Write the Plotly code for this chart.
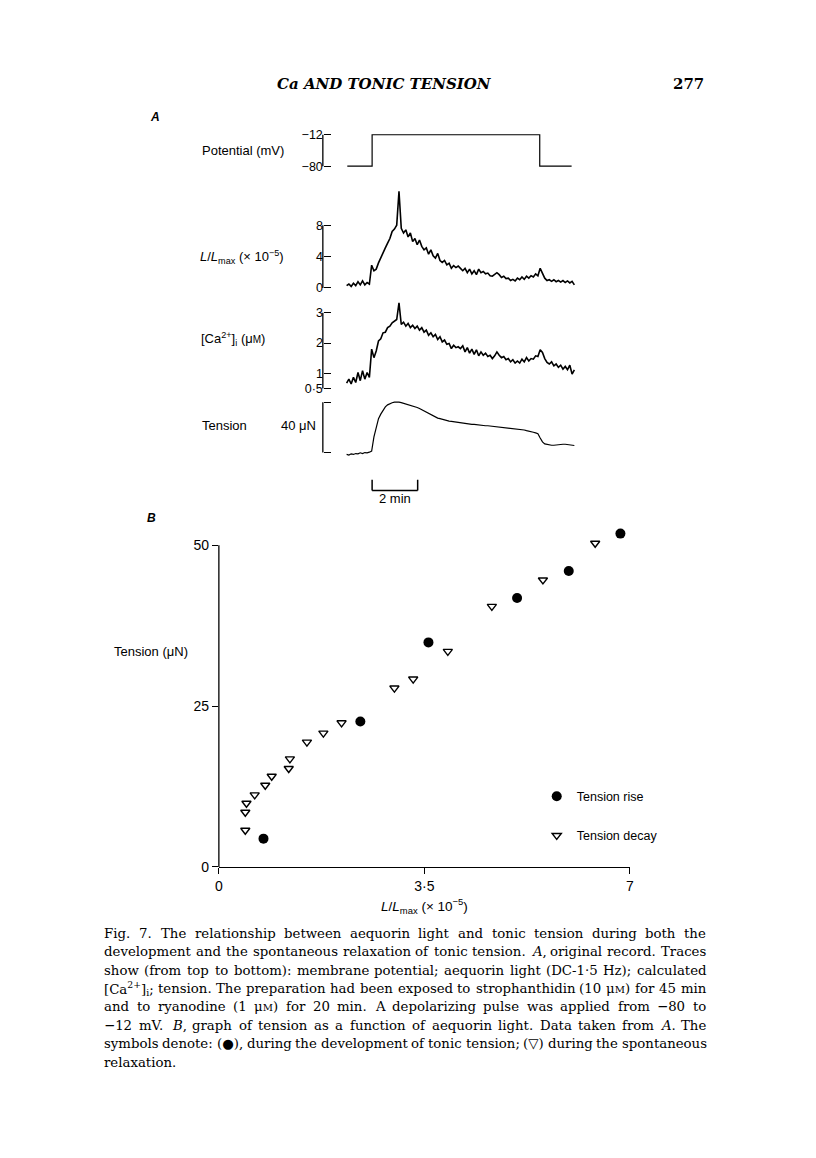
import glob
import re
import struct

import plotly.graph_objects as go

# ---------------- data ----------------
# Panel A: sample times (min from start of record)
TIME_MIN = [0.0, 0.1, 0.2, 0.3, 0.4, 0.5, 0.6, 0.7, 0.8, 0.9,
            1.0, 1.1, 1.2, 1.3, 1.4, 1.5, 1.6, 1.7, 1.8, 1.9,
            2.0, 2.1, 2.2, 2.3, 2.4, 2.5, 2.6, 2.7, 2.8, 2.9,
            3.0, 3.1, 3.2, 3.3, 3.4, 3.5, 3.6, 3.7, 3.8, 3.9,
            4.0, 4.1, 4.2, 4.3, 4.4, 4.5, 4.6, 4.7, 4.8, 4.9,
            5.0, 5.1, 5.2, 5.3, 5.4, 5.5, 5.6, 5.7, 5.8, 5.9,
            6.0, 6.1, 6.2, 6.3, 6.4, 6.5, 6.6, 6.7, 6.8, 6.9,
            7.0, 7.1, 7.2, 7.3, 7.4, 7.5, 7.6, 7.7, 7.8, 7.9,
            8.0, 8.1, 8.2, 8.3, 8.4, 8.5, 8.6, 8.7, 8.8, 8.9,
            9.0, 9.1, 9.2, 9.3, 9.4, 9.5, 9.6, 9.7, 9.8, 9.9, 10.0]

# aequorin light, L/Lmax (x 1e-5)
LIGHT = [0.3, 0.5, 0.2, 0.6, 0.3, 0.8, 0.4, 0.9, 0.4, 0.7, 0.5,
         2.9, 2.2, 2.4, 3.2, 3.9, 4.4, 5.1, 5.7, 6.3, 7.2,
         7.5, 8.0, 12.3, 7.6, 7.0, 7.4, 6.5, 7.0, 5.9, 6.3,
         5.5, 6.1, 5.3, 4.85, 5.1, 4.3, 4.85, 4.1, 3.8, 4.4,
         3.5, 3.25, 3.5, 2.95, 3.15, 2.5, 2.85, 2.6, 2.8, 2.5,
         2.2, 2.5, 1.95, 2.4, 1.8, 2.2, 1.7, 2.4, 1.95, 2.1,
         1.8, 1.9, 1.55, 1.5, 1.7, 1.95, 1.7, 1.35, 1.5, 1.2,
         1.25, 0.95, 1.1, 0.9, 1.25, 1.05, 1.4, 1.1, 1.5, 1.25,
         1.55, 1.4, 1.8, 1.55, 2.5, 1.95, 1.25, 0.95, 1.05, 0.85,
         1.05, 0.8, 0.95, 0.75, 0.95, 0.7, 0.9, 0.65, 0.85, 0.4]

# calculated [Ca2+]i (uM)
CALCIUM = [0.68, 0.81, 0.65, 0.87, 0.70, 1.03, 0.76, 1.09, 0.81, 1.03, 0.87,
           1.80, 1.52, 1.74, 2.07, 2.14, 2.34, 2.36, 2.51, 2.56, 2.67,
           2.73, 2.78, 3.33, 2.62, 2.69, 2.56, 2.65, 2.51, 2.59, 2.48,
           2.56, 2.43, 2.51, 2.36, 2.43, 2.26, 2.34, 2.21, 2.29, 2.12,
           2.21, 2.04, 2.10, 1.96, 1.99, 1.82, 1.93, 1.85, 1.88, 1.82,
           1.91, 1.71, 1.85, 1.67, 1.80, 1.63, 1.78, 1.58, 1.71, 1.60,
           1.67, 1.56, 1.60, 1.49, 1.58, 1.71, 1.60, 1.52, 1.56, 1.45,
           1.49, 1.38, 1.45, 1.34, 1.41, 1.34, 1.47, 1.38, 1.52, 1.41,
           1.49, 1.47, 1.58, 1.56, 1.78, 1.69, 1.49, 1.36, 1.31, 1.38,
           1.25, 1.31, 1.20, 1.27, 1.14, 1.23, 1.12, 1.27, 0.98, 1.12]

# tension (uN, relative to bracket bottom)
TENSION = [-1.5, -2.0, -1.0, -1.5, -0.8, -1.0, -0.2, -0.8, 0.0, -0.2, 0.3,
           1.1, 12.4, 20.3, 26.9, 30.5, 34.0, 36.3, 37.9, 39.0, 39.6,
           40.0, 40.1, 40.0, 39.7, 39.2, 38.7, 38.2, 37.6, 37.1, 36.6,
           35.8, 35.0, 34.0, 32.9, 31.9, 30.8, 29.8, 29.0, 28.2, 27.4,
           26.9, 26.3, 25.8, 25.3, 25.0, 24.8, 24.5, 24.2, 24.0, 23.7,
           23.4, 23.2, 22.9, 22.7, 22.4, 22.4, 22.1, 21.9, 21.9, 21.6,
           21.3, 21.3, 21.1, 21.1, 20.8, 20.8, 20.5, 20.3, 20.0, 19.8,
           19.5, 19.5, 19.2, 19.0, 18.7, 18.4, 18.2, 17.9, 17.4, 17.1,
           16.6, 16.1, 15.6, 15.0, 11.6, 8.45, 6.9, 6.35, 6.1, 5.8,
           5.8, 6.1, 6.35, 6.6, 6.6, 6.6, 6.35, 6.1, 5.8, 5.6]

# membrane potential (step pulse)
POT_TIME = [0.03, 1.12, 1.12, 8.48, 8.48, 9.88]
POT_MV = [-80, -80, -12, -12, -80, -80]

SCALE_BAR_START = 1.12   # min
SCALE_BAR_LEN = 2        # min

# Panel B
RISE_L = [0.76, 2.41, 3.57, 5.08, 5.96, 6.84]
RISE_T = [4.4, 22.6, 34.9, 41.8, 46.0, 51.8]
DECAY_L = [0.45, 0.45, 0.47, 0.61, 0.79, 0.90, 1.19, 1.21, 1.50, 1.78, 2.09,
           2.99, 3.31, 3.90, 4.65, 5.52, 6.41]
DECAY_T = [5.7, 8.5, 9.9, 11.2, 12.7, 14.1, 15.3, 16.8, 19.4, 20.8, 22.4,
           27.8, 29.2, 33.5, 40.5, 44.6, 50.3]

B_XTICKS = [0, 3.5, 7]
B_XTICKTEXT = ["0", "3·5", "7"]
B_YTICKS = [0, 25, 50]
B_YMAX = 50

SMALLM = "<span style='font-size:10px'>M</span>"
CAPTION = [
    "Fig. 7. The relationship between aequorin light and tonic tension during both the",
    "development and the spontaneous relaxation of tonic tension. <i>A</i>, original record. Traces",
    "show (from top to bottom): membrane potential; aequorin light (DC-1·5 Hz); calculated",
    "[Ca<sup>2+</sup>]<sub>i</sub>; tension. The preparation had been exposed to strophanthidin (10 μ" + SMALLM + ") for 45 min",
    "and to ryanodine (1 μ" + SMALLM + ") for 20 min. A depolarizing pulse was applied from −80 to",
    "−12 mV. <i>B</i>, graph of tension as a function of aequorin light. Data taken from <i>A</i>. The",
    "symbols denote: (●), during the development of tonic tension; (▽) during the spontaneous",
    "relaxation.",
]

# ---------------- layout helpers ----------------
W, H = 816, 1158
SANS = "Liberation Sans, Arial, sans-serif"
SERIF = "DejaVu Serif, serif"
CAP_SIZE = 13.3
CAP_LEFT, CAP_RIGHT = 100, 708


def py(p):
    return 1 - p / H


def px(p):
    return p / W


def lin_axis(v1, p1, v2, p2, p_lo, p_hi, vertical):
    s = (p2 - p1) / (v2 - v1)
    va = v1 + (p_lo - p1) / s
    vb = v1 + (p_hi - p1) / s
    if vertical:
        return dict(domain=[1 - p_hi / H, 1 - p_lo / H], range=[vb, va])
    return dict(domain=[p_lo / W, p_hi / W], range=[va, vb])


# --- tiny TrueType advance-width reader (for justifying the caption) ---
def load_metrics(name):
    paths = glob.glob("/usr/share/fonts/**/" + name, recursive=True)
    if not paths:
        return None
    data = open(paths[0], "rb").read()
    ntab = struct.unpack(">H", data[4:6])[0]
    tabs = {}
    for i in range(ntab):
        tag, _, off, ln = struct.unpack(">4sIII", data[12 + 16 * i:28 + 16 * i])
        tabs[tag.decode("latin1")] = off
    upem = struct.unpack(">H", data[tabs["head"] + 18:tabs["head"] + 20])[0]
    nhm = struct.unpack(">H", data[tabs["hhea"] + 34:tabs["hhea"] + 36])[0]
    hm = tabs["hmtx"]
    adv = [struct.unpack(">H", data[hm + 4 * i:hm + 4 * i + 2])[0] for i in range(nhm)]
    cm = tabs["cmap"]
    nsub = struct.unpack(">H", data[cm + 2:cm + 4])[0]
    cmap = {}
    for i in range(nsub):
        pid, eid, off = struct.unpack(">HHI", data[cm + 4 + 8 * i:cm + 12 + 8 * i])
        so = cm + off
        if pid == 3 and eid == 1 and struct.unpack(">H", data[so:so + 2])[0] == 4:
            seg2 = struct.unpack(">H", data[so + 6:so + 8])[0]
            seg = seg2 // 2
            ends = struct.unpack(">%dH" % seg, data[so + 14:so + 14 + seg2])
            starts = struct.unpack(">%dH" % seg, data[so + 16 + seg2:so + 16 + 2 * seg2])
            deltas = struct.unpack(">%dh" % seg, data[so + 16 + 2 * seg2:so + 16 + 3 * seg2])
            rpos = so + 16 + 3 * seg2
            roffs = struct.unpack(">%dH" % seg, data[rpos:rpos + seg2])
            for s in range(seg):
                for c in range(starts[s], ends[s] + 1):
                    if c == 0xFFFF:
                        continue
                    if roffs[s] == 0:
                        g = (c + deltas[s]) & 0xFFFF
                    else:
                        a = rpos + 2 * s + roffs[s] + 2 * (c - starts[s])
                        g = struct.unpack(">H", data[a:a + 2])[0]
                        if g:
                            g = (g + deltas[s]) & 0xFFFF
                    cmap[c] = g
            break
    return dict(upem=upem, adv=adv, cmap=cmap)


def char_w(fonts, ch, size):
    for f in fonts:
        if f and ord(ch) in f["cmap"]:
            g = f["cmap"][ord(ch)]
            a = f["adv"][g] if g < len(f["adv"]) else f["adv"][-1]
            return a * size / f["upem"]
    return 0.55 * size


try:
    F_REG = load_metrics("DejaVuSerif.ttf")
    F_IT = load_metrics("DejaVuSerif-Italic.ttf") or F_REG
    F_SANS = load_metrics("DejaVuSans.ttf")
except Exception:
    F_REG = F_IT = F_SANS = None


def rich_width(s, size):
    tot, italic, scale, spansize = 0.0, False, 1.0, None
    for tok in re.split(r"(<[^>]+>)", s):
        if not tok:
            continue
        if tok.startswith("<"):
            t = tok.lower()
            if t == "<i>":
                italic = True
            elif t == "</i>":
                italic = False
            elif t in ("<sup>", "<sub>"):
                scale = 0.7
            elif t in ("</sup>", "</sub>"):
                scale = 1.0
            elif t.startswith("<span"):
                m = re.search(r"font-size:\s*([\d.]+)px", t)
                spansize = float(m.group(1)) if m else None
            elif t == "</span>":
                spansize = None
            continue
        sz = (spansize if spansize else size) * scale
        fonts = [F_IT if italic else F_REG, F_SANS]
        tot += sum(char_w(fonts, ch, sz) for ch in tok)
    return tot


def split_words(line):
    # split on spaces that are not inside an html tag
    return [w for w in re.split(r" (?![^<]*>)", line) if w]


BRACKET_X = 322
LW = 1.3
fig = go.Figure()

fig.add_trace(go.Scatter(x=POT_TIME, y=POT_MV, mode="lines", line=dict(color="black", width=1.2),
                         xaxis="x", yaxis="y", showlegend=False, hoverinfo="skip"))
fig.add_trace(go.Scatter(x=TIME_MIN, y=LIGHT, mode="lines", line=dict(color="black", width=1.6),
                         xaxis="x", yaxis="y2", showlegend=False, hoverinfo="skip"))
fig.add_trace(go.Scatter(x=TIME_MIN, y=CALCIUM, mode="lines", line=dict(color="black", width=1.6),
                         xaxis="x", yaxis="y3", showlegend=False, hoverinfo="skip"))
fig.add_trace(go.Scatter(x=TIME_MIN, y=TENSION, mode="lines", line=dict(color="black", width=1.2),
                         xaxis="x", yaxis="y4", showlegend=False, hoverinfo="skip"))

fig.add_trace(go.Scatter(x=RISE_L, y=RISE_T, mode="markers", name="Tension rise",
                         marker=dict(symbol="circle", size=10, color="black"),
                         xaxis="x2", yaxis="y5", cliponaxis=False, legendgroup="a"))
fig.add_trace(go.Scatter(x=DECAY_L, y=DECAY_T, mode="markers", name="Tension decay",
                         marker=dict(symbol="triangle-down-open", size=8, color="black",
                                     line=dict(width=1.4, color="black")),
                         xaxis="x2", yaxis="y5", cliponaxis=False, legendgroup="b"))

tickfont = dict(family=SANS, size=12.5, color="black")
bracket_axis = dict(anchor="free", position=px(BRACKET_X), side="left", ticks="inside",
                    ticklen=7, tickwidth=LW, tickcolor="black", showline=False,
                    showgrid=False, zeroline=False, tickfont=tickfont, fixedrange=True)

xa = lin_axis(0, 346, 2, 392, 340, 585, False)
ya1 = lin_axis(-12, 135.7, -80, 167.3, 126, 176, True)
ya2 = lin_axis(8, 226.7, 0, 290, 183, 300, True)
ya3 = lin_axis(3, 315, 1, 376, 301, 395, True)
ya4 = lin_axis(40, 405, 0, 455.7, 396, 466, True)
yb = lin_axis(B_YMAX, 549, 0, 873, 525, 873, True)

ax4 = dict(bracket_axis)
ax4["showticklabels"] = False

layout = dict(
    width=W, height=H, margin=dict(l=0, r=0, t=0, b=0),
    paper_bgcolor="white", plot_bgcolor="rgba(0,0,0,0)",
    xaxis=dict(domain=xa["domain"], range=xa["range"], visible=False, anchor="y"),
    yaxis=dict(domain=ya1["domain"], range=ya1["range"], tickvals=[-80, -12],
               ticktext=["−80", "−12"], **bracket_axis),
    yaxis2=dict(domain=ya2["domain"], range=ya2["range"], tickvals=[0, 4, 8],
                ticktext=["0", "4", "8"], **bracket_axis),
    yaxis3=dict(domain=ya3["domain"], range=ya3["range"], tickvals=[0.5, 1, 2, 3],
                ticktext=["0·5", "1", "2", "3"], **bracket_axis),
    yaxis4=dict(domain=ya4["domain"], range=ya4["range"], tickvals=[0, 40], **ax4),
    xaxis2=dict(domain=[px(217), px(632)], range=[0, 7], anchor="y5",
                showline=True, linecolor="black", linewidth=LW, ticks="outside",
                ticklen=6, tickwidth=LW, tickcolor="black", tickvals=B_XTICKS,
                ticktext=B_XTICKTEXT, showgrid=False, zeroline=False,
                tickfont=dict(family=SANS, size=14, color="black"), fixedrange=True),
    yaxis5=dict(domain=yb["domain"], range=yb["range"], anchor="x2",
                showline=False, ticks="outside",
                ticklen=6, tickwidth=LW, tickcolor="black", tickvals=B_YTICKS,
                showgrid=False, zeroline=False,
                tickfont=dict(family=SANS, size=14, color="black"), fixedrange=True),
    showlegend=True,
    legend=dict(x=px(538), y=py(787), xanchor="left", yanchor="top",
                bgcolor="rgba(0,0,0,0)", font=dict(family=SANS, size=12.5, color="black"),
                tracegroupgap=20, traceorder="grouped"),
)
fig.update_layout(**layout)

shapes = []
for yref, (lo, hi) in [("y", (-80, -12)), ("y2", (0, 8)), ("y3", (0.5, 3)), ("y4", (0, 40))]:
    shapes.append(dict(type="line", xref="paper", yref=yref, x0=px(BRACKET_X), x1=px(BRACKET_X),
                       y0=lo, y1=hi, line=dict(color="black", width=LW)))
shapes.append(dict(type="line", xref="paper", yref="y5", x0=px(217), x1=px(217),
                   y0=0, y1=B_YMAX, line=dict(color="black", width=LW)))
bar_top, bar_bot = py(483), py(494)
t0, t1 = SCALE_BAR_START, SCALE_BAR_START + SCALE_BAR_LEN
shapes += [
    dict(type="line", xref="x", yref="paper", x0=t0, x1=t0, y0=bar_top, y1=bar_bot,
         line=dict(color="black", width=1.5)),
    dict(type="line", xref="x", yref="paper", x0=t1, x1=t1, y0=bar_top, y1=bar_bot,
         line=dict(color="black", width=1.5)),
    dict(type="line", xref="x", yref="paper", x0=t0, x1=t1, y0=bar_bot, y1=bar_bot,
         line=dict(color="black", width=1.5)),
]
fig.update_layout(shapes=shapes)

ann = []


def text(x, y, s, size=13, family=SANS, xanchor="left", yanchor="middle", xref="paper"):
    ann.append(dict(x=x, y=y, xref=xref, yref="paper", text=s, showarrow=False,
                    xanchor=xanchor, yanchor=yanchor, borderpad=0,
                    font=dict(family=family, size=size, color="black")))


text(px(384), py(85), "<b><i>Ca AND TONIC TENSION</i></b>", size=15, family=SERIF, xanchor="center")
text(px(708), py(85), "<b>277</b>", size=15, family=SERIF, xanchor="right")

text(px(146), py(118), "<b><i>A</i></b>", size=12)
text(px(143), py(522), "<b><i>B</i></b>", size=12)

text(px(199), py(152), "Potential (mV)")
text(px(197), py(259), "<i>L</i>/<i>L</i><sub>max</sub> (× 10<sup>−5</sup>)")
text(px(198), py(341), "[Ca<sup>2+</sup>]<sub>i</sub> (μ<span style='font-size:10px'>M</span>)")
text(px(199), py(428), "Tension")
text(px(316), py(428), "40 μN", xanchor="right")
text((t0 + t1) / 2, py(502), "2 min", xref="x", xanchor="center")

text(px(110), py(656), "Tension (μN)")
text(px(425), py(912), "<i>L</i>/<i>L</i><sub>max</sub> (× 10<sup>−5</sup>)", size=13.5, xanchor="center")

# caption: justified lines (word by word) when font metrics are available
for i, line in enumerate(CAPTION):
    yline = py(940 + i * 18.5)
    words = split_words(line)
    last = i == len(CAPTION) - 1
    if F_REG is None or last or len(words) < 2:
        text(px(CAP_LEFT), yline, line, size=CAP_SIZE, family=SERIF)
        continue
    widths = [rich_width(w, CAP_SIZE) for w in words]
    gap = (CAP_RIGHT - CAP_LEFT - sum(widths)) / (len(words) - 1)
    if gap < 2:
        text(px(CAP_LEFT), yline, line, size=CAP_SIZE, family=SERIF)
        continue
    xpos = CAP_LEFT
    for w, wd in zip(words, widths):
        text(px(xpos), yline, w, size=CAP_SIZE, family=SERIF)
        xpos += wd + gap

fig.update_layout(annotations=ann)

fig.write_html("out.html", post_script="document.body.style.margin='0px';",
               config={"displayModeBar": False})
